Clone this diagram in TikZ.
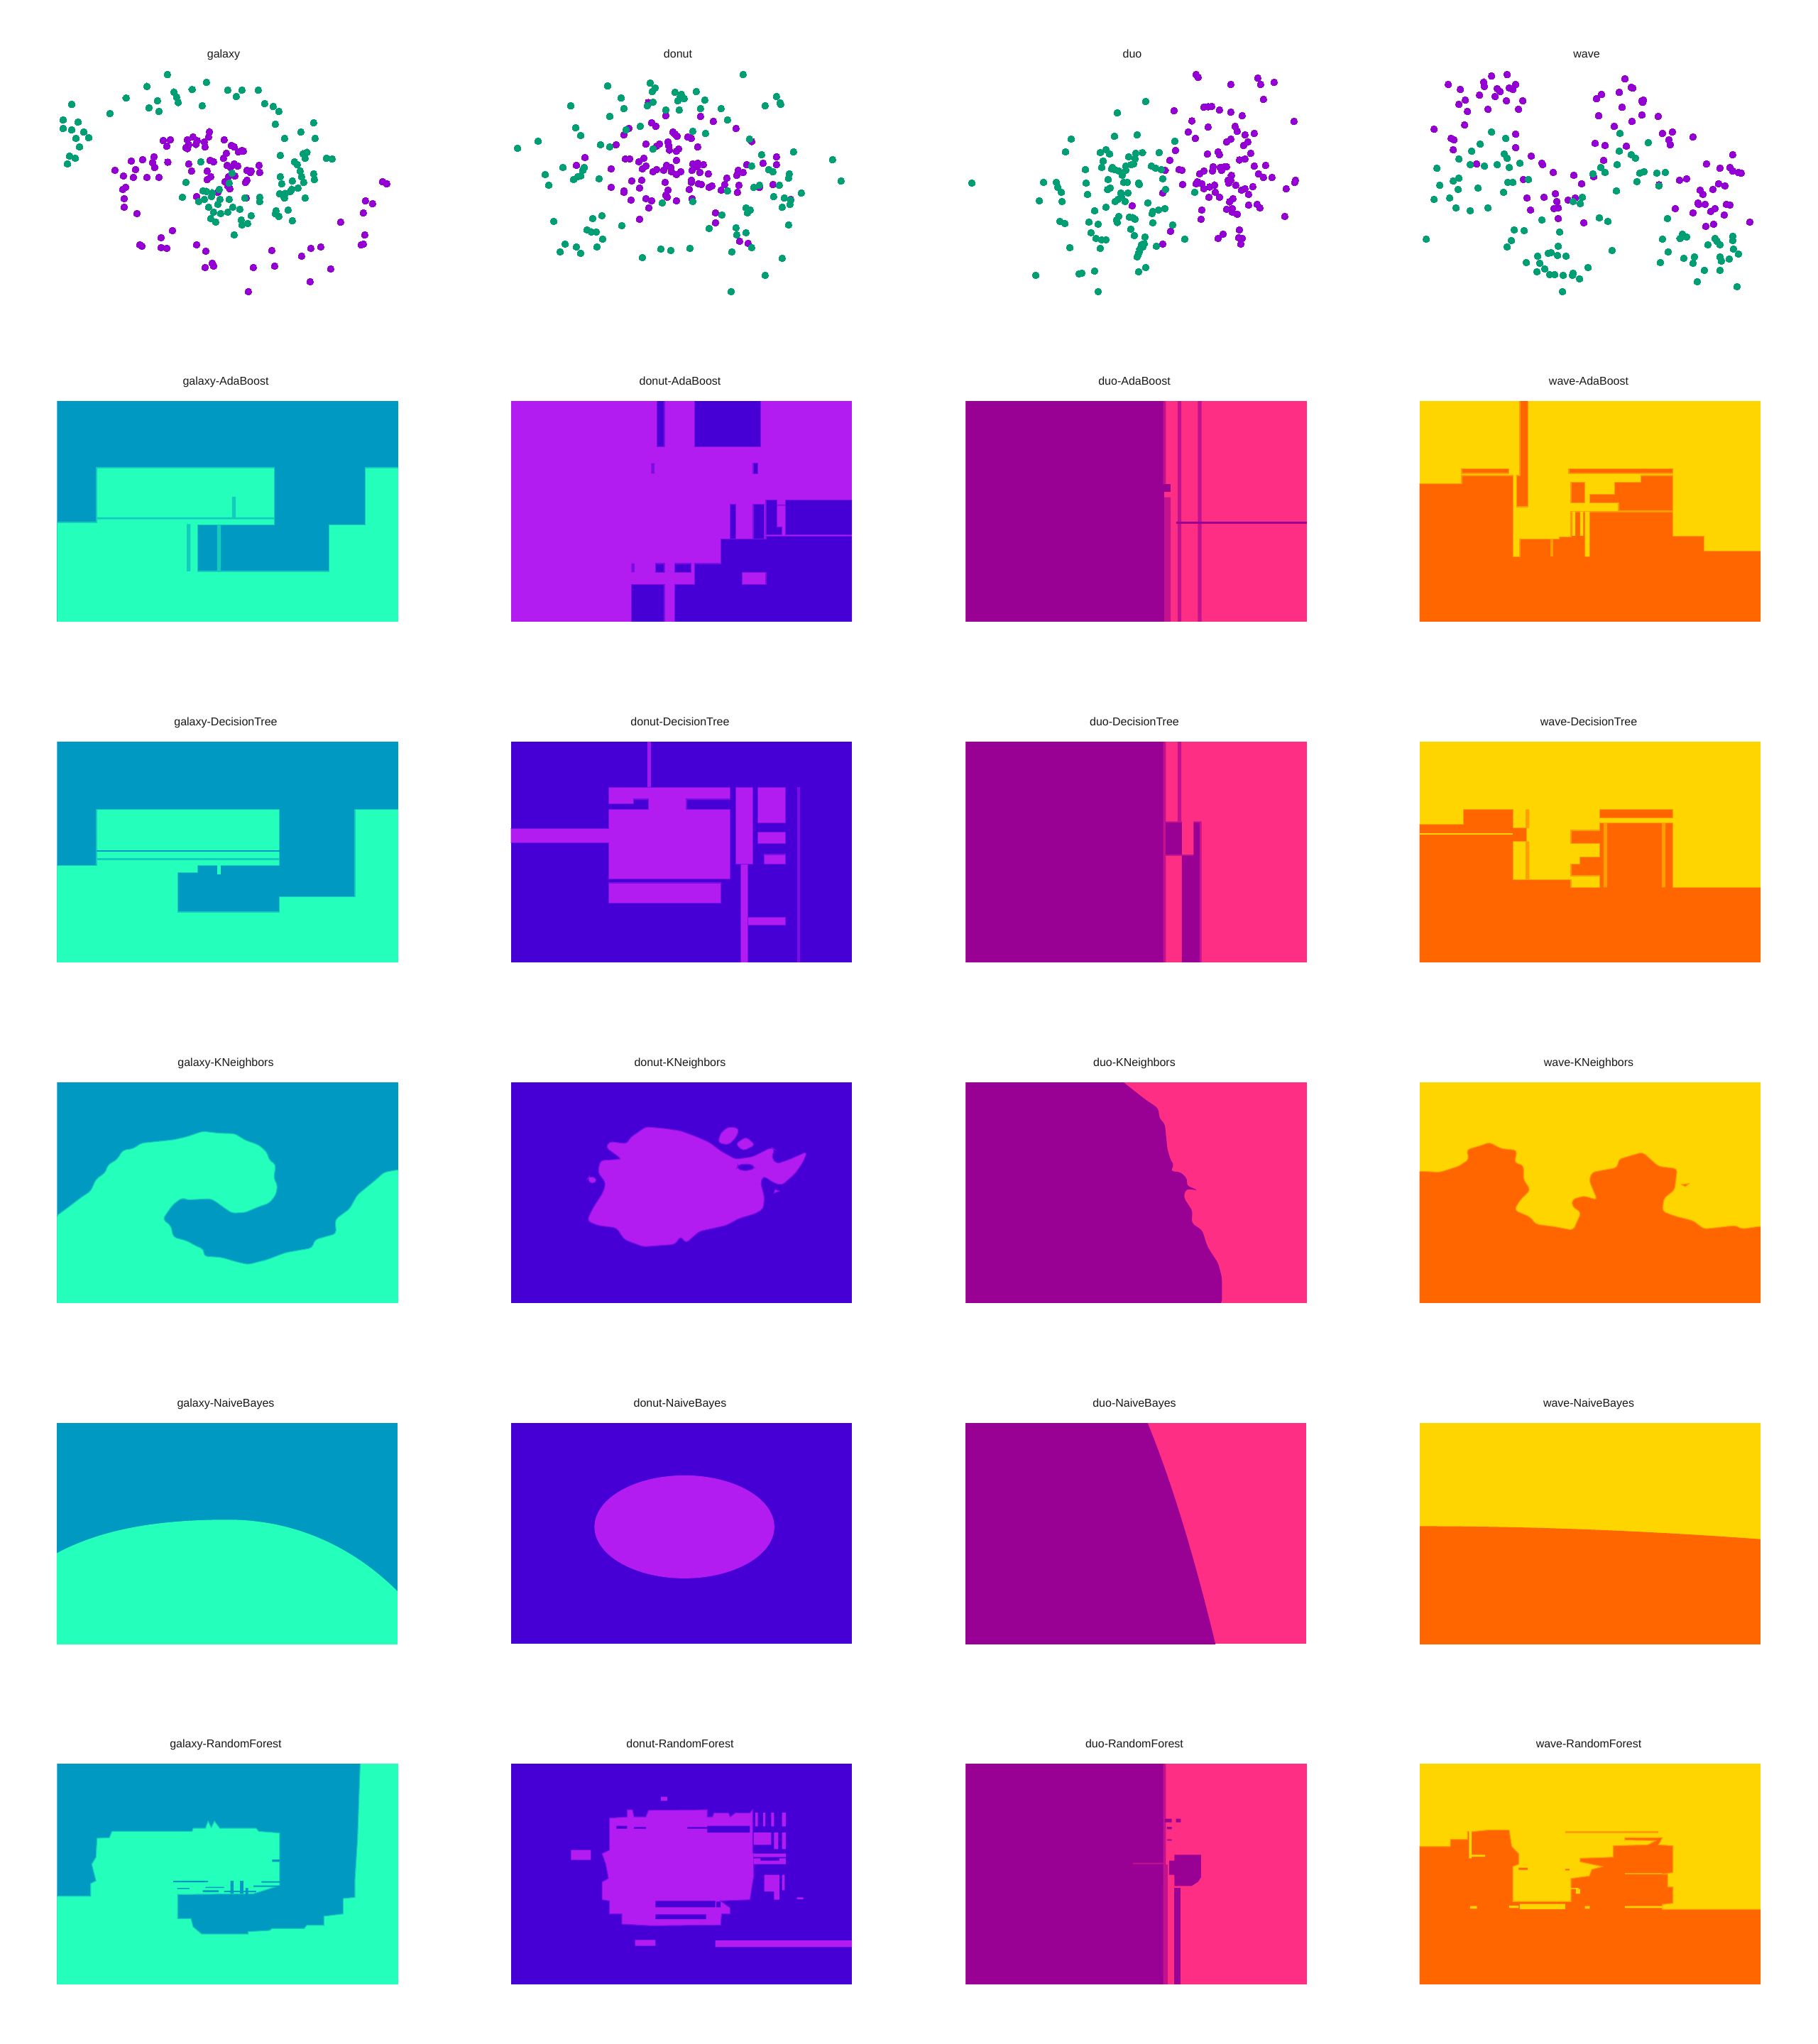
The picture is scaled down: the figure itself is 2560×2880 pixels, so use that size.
\documentclass[tikz,border=0pt]{standalone}
\usepackage{fontspec}
\setmainfont{Liberation Sans}
\definecolor{gaB}{HTML}{0099C2}
\definecolor{gaM}{HTML}{24FFBB}
\definecolor{doB}{HTML}{4600D6}
\definecolor{doM}{HTML}{B31CF0}
\definecolor{duD}{HTML}{990094}
\definecolor{duP}{HTML}{FF2E85}
\definecolor{waY}{HTML}{FFD500}
\definecolor{waO}{HTML}{FF6600}
\definecolor{ptg}{HTML}{009E73}
\definecolor{ptp}{HTML}{9400D3}
\colorlet{gaE}{gaB!50!gaM}
\colorlet{doE}{doB!50!doM}
\colorlet{duE}{duD!60!duP}
\colorlet{waE}{waY!50!waO}
\tikzset{
  ttl/.style={anchor=base,inner sep=0pt,font=\fontsize{4}{5}\selectfont,text=black!90},
  cropL/.style={shift={(60,#1)},xscale=0.752,yscale=0.3333},
  cropR/.style={shift={(1340,#1)},xscale=0.752,yscale=0.3333},
  cropT/.style={shift={(#1,50)},scale=0.3333},
  thumb/.style={scale=1.8364},
  gaf/.style={fill=gaM,draw=gaE,line width=.3pt},
  dof/.style={fill=doM,draw=doE,line width=.3pt},
  dob/.style={fill=doB,draw=doE,line width=.3pt},
  wao/.style={fill=waO,draw=waE,line width=.3pt},
  soft/.style={rounded corners=1.2pt},
  ptsg/.style={mark=*,mark size=3.63pt,only marks,mark options={fill=ptg,draw=ptg,line width=0pt}},
  ptsp/.style={mark=*,mark size=3.63pt,only marks,mark options={fill=ptp,draw=ptp,line width=0pt}},
}
\newcommand{\pl}{\clip (27,165) rectangle (666,1098);}
\newcommand{\pr}{\clip (877,165) rectangle (1516,1098);}
\begin{document}
\begin{tikzpicture}[x=0.25pt,y=-0.25pt]
\useasboundingbox (0,0) rectangle (2560,2880);
\fill[white] (0,0) rectangle (2560,2880);
% titles
\node[ttl] (t11) at (315,81) {galaxy};
\node[ttl] (t12) at (955,81) {donut};
\node[ttl] (t13) at (1595,81) {duo};
\node[ttl] (t14) at (2235,81) {wave};
\node[ttl] (t21) at (318,542) {galaxy-AdaBoost};
\node[ttl] (t22) at (958,542) {donut-AdaBoost};
\node[ttl] (t23) at (1598,542) {duo-AdaBoost};
\node[ttl] (t24) at (2238,542) {wave-AdaBoost};
\node[ttl] (t31) at (318,1022) {galaxy-DecisionTree};
\node[ttl] (t32) at (958,1022) {donut-DecisionTree};
\node[ttl] (t33) at (1598,1022) {duo-DecisionTree};
\node[ttl] (t34) at (2238,1022) {wave-DecisionTree};
\node[ttl] (t41) at (318,1502) {galaxy-KNeighbors};
\node[ttl] (t42) at (958,1502) {donut-KNeighbors};
\node[ttl] (t43) at (1598,1502) {duo-KNeighbors};
\node[ttl] (t44) at (2238,1502) {wave-KNeighbors};
\node[ttl] (t51) at (318,1982) {galaxy-NaiveBayes};
\node[ttl] (t52) at (958,1982) {donut-NaiveBayes};
\node[ttl] (t53) at (1598,1982) {duo-NaiveBayes};
\node[ttl] (t54) at (2238,1982) {wave-NaiveBayes};
\node[ttl] (t61) at (318,2462) {galaxy-RandomForest};
\node[ttl] (t62) at (958,2462) {donut-RandomForest};
\node[ttl] (t63) at (1598,2462) {duo-RandomForest};
\node[ttl] (t64) at (2238,2462) {wave-RandomForest};
% scatter: galaxy
\begin{scope}[cropT=60]
\path[ptsp] plot coordinates {(705,407)(702,429)(684,450)(687,471)(636,429)(654,445)(612,441)(648,460)(618,462)(606,474)(612,478)(510,444)(540,441)(525,468)(768,441)(798,465)(810,471)(843,486)(849,489)(828,492)(777,498)(765,519)(708,528)(723,534)(618,543)(630,573)(696,573)(471,513)(423,525)(375,531)(465,537)(474,558)(529,535)(393,567)(306,570)(342,594)(384,600)(441,600)(492,600)(351,642)(339,651)(345,690)(345,726)(399,753)(780,549)(810,543)(795,558)(825,552)(915,549)(864,570)(882,573)(878,579)(918,579)(711,597)(696,609)(786,597)(813,594)(771,618)(864,612)(858,621)(783,636)(792,648)(741,663)(651,681)(861,687)(549,825)(501,855)(411,885)(420,891)(501,897)(525,900)(651,885)(690,912)(717,963)(723,975)(687,981)(969,909)(891,981)(981,975)(870,1083)(1131,1041)(1218,987)(1095,933)(1134,900)(1176,894)(1347,885)(1356,882)(1362,843)(1260,789)(1356,750)(1365,699)(1395,711)(1437,618)(1455,627)};
\path[ptsg] plot coordinates {(528,165)(441,215)(693,198)(632,228)(555,239)(567,261)(573,283)(353,264)(486,276)(450,306)(492,321)(675,297)(285,330)(123,291)(87,357)(150,366)(87,393)(123,399)(174,408)(195,432)(141,435)(156,471)(114,510)(138,519)(105,543)(783,231)(843,231)(819,258)(912,231)(939,288)(975,300)(999,321)(984,375)(1146,369)(1092,408)(1152,435)(1023,435)(1005,507)(1117,494)(1101,500)(1110,519)(1200,519)(1224,522)(1065,534)(1077,546)(1089,573)(1146,585)(1095,597)(1149,609)(1104,621)(1005,597)(1056,615)(1011,627)(1080,645)(1053,650)(1047,660)(1002,669)(1025,668)(1022,687)(1110,687)(669,534)(606,621)(801,582)(789,624)(591,684)(678,657)(693,659)(717,665)(714,681)(747,651)(684,693)(660,702)(750,693)(741,714)(789,693)(855,687)(918,684)(918,702)(702,726)(723,747)(753,753)(783,747)(804,726)(834,735)(711,774)(732,789)(882,762)(840,780)(867,795)(843,801)(810,843)(987,741)(984,753)(999,765)(1038,738)(1056,783)};
\end{scope}
% scatter: donut
\begin{scope}[cropT=700]
\path[ptsp] plot coordinates {(640,283)(714,339)(861,342)(915,363)(654,369)(672,384)(558,393)(537,420)(1011,393)(744,408)(753,417)(762,426)(807,429)(822,435)(723,450)(726,465)(729,484)(630,459)(687,459)(675,468)(504,462)(849,471)(1077,448)(768,480)(759,489)(372,516)(336,549)(543,522)(561,522)(621,519)(600,534)(759,528)(630,552)(615,564)(483,564)(828,543)(849,540)(873,546)(846,555)(825,570)(858,579)(717,549)(735,558)(705,570)(738,576)(660,576)(675,567)(777,576)(759,588)(894,585)(1056,546)(1125,540)(1182,513)(1182,546)(1020,570)(1041,579)(1014,591)(972,603)(963,630)(948,654)(1023,633)(1017,663)(570,615)(612,612)(603,645)(711,621)(822,612)(822,621)(852,627)(864,630)(897,642)(909,636)(483,642)(537,657)(537,663)(813,651)(723,654)(714,675)(720,684)(630,690)(654,699)(567,696)(759,699)(825,690)(642,729)(1167,630)(1110,642)(1242,693)(924,750)(603,777)(924,792)(1026,870)(1062,879)};
\path[ptsg] plot coordinates {(1041,165)(468,213)(648,201)(669,222)(657,237)(753,240)(780,249)(774,261)(792,267)(765,276)(843,237)(879,273)(525,264)(660,282)(636,297)(312,297)(537,309)(714,315)(771,315)(861,309)(948,309)(477,342)(1182,258)(1197,285)(1200,291)(1134,297)(975,357)(606,384)(333,390)(546,399)(354,423)(828,405)(882,414)(174,447)(87,477)(438,462)(477,471)(660,480)(1068,438)(1119,504)(1254,492)(1419,525)(279,558)(369,558)(363,570)(204,588)(354,594)(342,597)(324,609)(432,606)(219,633)(1077,552)(1149,567)(1167,576)(1236,585)(1233,603)(1455,615)(1110,633)(1086,642)(1194,633)(975,657)(1287,666)(1170,681)(1215,687)(1239,714)(1206,726)(1241,696)(699,708)(828,702)(1053,729)(1071,738)(1065,738)(1059,750)(951,759)(444,762)(405,774)(240,786)(528,804)(1233,801)(897,816)(1011,813)(381,822)(399,830)(420,831)(1053,834)(1014,843)(447,861)(288,882)(336,894)(423,894)(267,915)(354,921)(693,903)(735,909)(816,900)(993,915)(1077,897)(615,939)(1206,942)(1134,1014)(990,1083)};
\end{scope}
% scatter: duo
\begin{scope}[cropT=1340]
\path[ptsp] plot coordinates {(1035,165)(1044,177)(1296,180)(1308,207)(1365,198)(1182,207)(1320,270)(1068,303)(1086,301)(1101,300)(1134,315)(1182,324)(1230,339)(942,318)(1017,361)(1449,363)(1086,387)(1200,384)(1209,405)(1002,408)(1242,420)(1281,414)(1032,435)(1182,438)(1164,450)(1254,450)(1236,465)(948,486)(1128,492)(1134,504)(1083,501)(1266,498)(1242,522)(1218,526)(924,528)(904,570)(963,567)(975,570)(1281,552)(1329,549)(1107,555)(1104,572)(1068,573)(1050,585)(1137,558)(1143,570)(1155,555)(1164,555)(1299,585)(1320,600)(1356,600)(1184,591)(1170,612)(1182,612)(1173,624)(1203,633)(1455,612)(1452,621)(978,630)(1040,618)(1035,627)(1059,627)(1068,648)(1092,640)(1113,632)(1275,639)(1227,654)(1242,648)(1416,648)(894,666)(1116,663)(1257,672)(1089,684)(1134,684)(1191,690)(1176,703)(765,720)(1257,717)(1293,714)(1305,729)(1059,738)(1164,735)(1188,732)(1188,747)(1209,756)(1410,765)(1056,777)(1218,822)(927,828)(1149,840)(1128,858)(1215,855)(1230,858)(1224,882)(894,882)};
\path[ptsg] plot coordinates {(822,279)(702,327)(507,438)(690,426)(786,420)(945,447)(483,492)(654,483)(630,495)(669,501)(750,513)(780,498)(808,495)(879,495)(777,521)(642,531)(636,558)(738,552)(771,543)(760,546)(846,552)(864,561)(888,567)(681,558)(678,564)(690,567)(708,573)(738,570)(723,591)(567,567)(663,609)(894,606)(390,621)(444,621)(570,624)(729,621)(744,621)(792,624)(795,630)(87,624)(450,642)(465,663)(672,645)(661,651)(906,651)(1029,663)(717,666)(747,666)(576,672)(720,684)(705,693)(693,702)(735,702)(372,699)(468,702)(831,708)(654,726)(606,741)(903,732)(876,738)(852,744)(849,753)(708,765)(699,780)(702,790)(753,768)(768,770)(777,777)(459,786)(480,795)(582,789)(621,798)(852,792)(936,801)(759,819)(591,834)(774,846)(612,858)(636,864)(654,864)(819,852)(987,861)(816,880)(804,885)(810,893)(867,891)(501,897)(630,900)(797,903)(795,915)(790,925)(786,936)(822,981)(792,999)(606,996)(552,1005)(540,1008)(357,1014)(621,1083)};
\end{scope}
% scatter: wave
\begin{scope}[cropT=1980]
\path[ptsp] plot coordinates {(429,165)(363,171)(180,207)(330,197)(333,215)(231,228)(465,207)(438,222)(453,228)(387,225)(399,237)(312,252)(378,258)(252,273)(426,276)(495,276)(225,291)(261,321)(348,312)(477,312)(249,378)(120,396)(465,417)(192,435)(204,441)(201,483)(465,474)(531,510)(576,540)(579,546)(300,543)(624,579)(711,591)(498,609)(744,627)(795,597)(927,183)(954,219)(960,222)(903,240)(828,249)(807,267)(999,276)(1005,273)(1002,282)(915,303)(816,339)(999,336)(1068,342)(957,363)(882,384)(1086,414)(1128,408)(1113,441)(1119,462)(1215,429)(801,456)(843,465)(933,468)(1383,504)(837,528)(1272,543)(1329,561)(1371,558)(1383,573)(1407,579)(1419,582)(1158,612)(1188,606)(1071,631)(1323,627)(1350,636)(1299,651)(1245,654)(1257,672)(633,669)(513,687)(585,684)(687,696)(717,687)(639,702)(1236,708)(1239,714)(1266,714)(1356,714)(1371,717)(1140,732)(1308,732)(1290,744)(1215,750)(1347,759)(627,732)(645,729)(528,738)(645,774)(753,792)(1455,789)(1302,798)(1269,807)};
\path[ptsg] plot coordinates {(363,408)(423,435)(906,414)(1026,453)(315,459)(279,489)(417,501)(429,519)(903,489)(954,504)(972,519)(225,522)(483,540)(273,546)(387,546)(333,552)(438,558)(132,561)(894,546)(825,558)(843,579)(792,585)(990,582)(1008,576)(1062,582)(1098,579)(225,603)(201,615)(432,621)(453,621)(519,609)(978,618)(1071,636)(144,633)(222,651)(306,645)(891,657)(414,663)(120,693)(186,687)(747,684)(708,702)(738,711)(213,729)(273,741)(348,729)(576,780)(819,771)(855,786)(1107,774)(459,822)(501,825)(651,831)(87,861)(447,867)(429,894)(645,891)(1170,840)(1160,858)(1188,852)(1086,861)(1308,858)(1316,870)(1329,885)(1383,849)(1383,867)(1278,885)(1386,903)(873,909)(1110,915)(1407,924)(603,921)(615,918)(642,930)(558,933)(678,933)(1221,936)(1176,942)(1329,936)(1335,954)(1368,945)(510,960)(567,963)(1215,963)(1077,960)(588,987)(771,981)(555,999)(1263,993)(1329,993)(609,1011)(630,1011)(666,1014)(705,1014)(708,1005)(735,1029)(1233,1041)(1401,1062)(663,1083)};
\end{scope}
% ===== row 2 AdaBoost =====
\begin{scope}[cropL=510]
\begin{scope}\pl
\fill[gaB] (27,165) rectangle (666,1098);
\path[gaf] (27,1100) -- (27,678) -- (101,678) -- (101,447) -- (434,447) -- (434,688) -- (291,688) -- (291,885) -- (537,885) -- (537,688) -- (604,688) -- (604,447) -- (668,447) -- (668,1100) -- cycle;
\fill[gaE] (101,657) rectangle (434,665) (355,570) rectangle (362,661) (270,685) rectangle (277,885) (327,688) rectangle (334,885);
\end{scope}
\begin{scope}\pr
\fill[doM] (877,165) rectangle (1516,1098);
\path[dob] (1151,160) rectangle (1165,358) (1221,160) rectangle (1345,358) (1392,583) rectangle (1520,730) (1331,428) rectangle (1340,472);
\path[dob] (1355,583) -- (1376,583) -- (1376,697) -- (1385,697) -- (1385,730) -- (1355,730) -- cycle;
\path[dob] (1288,601) rectangle (1298,748) (1331,601) rectangle (1352,748);
\path[dob] (1271,748) -- (1355,748) -- (1355,737) -- (1520,737) -- (1520,1102) -- (1184,1102) -- (1184,940) -- (1221,940) -- (1221,852) -- (1271,852) -- cycle;
\path[dof] (1310,889) rectangle (1355,940);
\path[dob] (1103,940) rectangle (1165,1102) (1148,852) rectangle (1165,889) (1184,852) rectangle (1215,889);
\fill[doE] (1140,428) rectangle (1146,472) (1103,852) rectangle (1109,889) (1376,603) rectangle (1392,608);
\end{scope}
\end{scope}
\begin{scope}[cropR=510]
\begin{scope}\pl
\fill[duP] (27,165) rectangle (666,1098);
\fill[duD] (27,165) rectangle (399,1098);
\fill[duE] (397,165) rectangle (402,517) (399,572) rectangle (411,1098) (424,165) rectangle (431,1098) (462,165) rectangle (469,1098);
\fill[duD] (399,517) rectangle (411,550);
\fill[duD] (421,674) rectangle (666,683);
\end{scope}
\begin{scope}\pr
\fill[waY] (877,165) rectangle (1516,1098);
\path[wao] (874,1102) -- (874,515) -- (956,515) -- (956,480) -- (1052,480) -- (1052,823) -- (1065,823) -- (1065,748) -- (1139,748) -- (1139,740) -- (1161,740) -- (1161,633) -- (1352,633) -- (1352,737) -- (1410,737) -- (1410,800) -- (1520,800) -- (1520,1102) -- cycle;
\fill[waE] (1122,748) rectangle (1127,823);
\fill[waY] (1163,633) rectangle (1169,735) (1178,633) rectangle (1184,735) (1187,633) rectangle (1196,823);
\path[wao] (1065,160) -- (1080,160) -- (1080,612) -- (1059,612) -- (1059,480) -- (1065,480) -- cycle;
\path[wao] (956,452) rectangle (1045,471) (1157,452) rectangle (1352,471);
\path[wao] (1292,480) -- (1352,480) -- (1352,628) -- (1250,628) -- (1250,596) -- (1196,596) -- (1196,560) -- (1243,560) -- (1243,508) -- (1292,508) -- cycle;
\path[wao] (1161,508) rectangle (1187,596);
\end{scope}
\end{scope}
% ===== row 3 DecisionTree =====
\begin{scope}[cropL=990]
\begin{scope}\pl
\fill[gaB] (27,165) rectangle (666,1098);
\path[gaf] (24,1102) -- (24,688) -- (101,688) -- (101,451) -- (444,451) -- (444,688) -- (291,688) -- (291,718) -- (253,718) -- (253,885) -- (444,885) -- (444,820) -- (585,820) -- (585,451) -- (670,451) -- (670,1102) -- cycle;
\fill[gaB] (101,623) rectangle (444,630);
\fill[gaE] (101,657) rectangle (444,666);
\fill[gaM] (327,688) rectangle (334,725);
\end{scope}
\begin{scope}\pr
\fill[doB] (877,165) rectangle (1516,1098);
\path[dof] (1061,358) -- (1288,358) -- (1288,408) -- (1206,408) -- (1206,451) -- (1288,451) -- (1288,745) -- (1061,745) -- (1061,592) -- (870,592) -- (870,532) -- (1061,532) -- (1061,451) -- (1135,451) -- (1135,408) -- (1107,408) -- (1107,428) -- (1061,428) -- cycle;
\path[dof] (1298,358) rectangle (1330,682) (1340,358) rectangle (1392,508) (1340,548) rectangle (1392,596) (1352,642) rectangle (1392,682) (1061,762) rectangle (1271,847) (1308,682) rectangle (1321,1102) (1321,908) rectangle (1392,940);
\fill[doM!85!doB] (1133,165) rectangle (1140,358);
\fill[doE] (1413,358) rectangle (1419,1098);
\end{scope}
\end{scope}
\begin{scope}[cropR=990]
\begin{scope}\pl
\fill[duP] (27,165) rectangle (666,1098);
\fill[duD] (27,165) rectangle (399,1098);
\fill[duE] (397,165) rectangle (402,1098) (424,165) rectangle (431,502) (402,502) rectangle (432,507);
\fill[duD] (402,507) rectangle (432,643);
\fill[duE] (402,643) rectangle (455,648);
\fill[duD] (454,505) rectangle (466,1098) (432,648) rectangle (466,1098);
\fill[duE] (454,502) rectangle (469,507) (466,502) rectangle (469,1098);
\end{scope}
\begin{scope}\pr
\fill[waY] (877,165) rectangle (1516,1098);
\path[wao] (874,1102) -- (874,515) -- (959,515) -- (959,451) -- (1052,451) -- (1052,530) -- (1078,530) -- (1078,587) -- (1052,587) -- (1052,748) -- (1161,748) -- (1161,781) -- (1215,781) -- (1215,732) -- (1161,732) -- (1161,682) -- (1178,682) -- (1178,652) -- (1215,652) -- (1215,596) -- (1161,596) -- (1161,540) -- (1215,540) -- (1215,508) -- (1352,508) -- (1352,781) -- (1520,781) -- (1520,1102) -- cycle;
\fill[waY] (877,551) rectangle (1052,558);
\fill[waE] (1076,451) rectangle (1083,530) (1076,587) rectangle (1083,748) (1222,508) rectangle (1229,781) (1331,508) rectangle (1338,781);
\path[wao] (1215,451) rectangle (1352,488);
\end{scope}
\end{scope}
% ===== row 4 KNeighbors =====
\begin{scope}[cropL=1470]
\begin{scope}\pl
\fill[gaB] (27,165) rectangle (666,1098);
\path[gaf,soft] (24,733) -- (50,690) -- (70,655) -- (90,625) -- (100,575) -- (118,545) -- (122,515) -- (140,490) -- (150,452) -- (170,445) -- (185,422) -- (215,415) -- (245,408) -- (270,395) -- (300,372) -- (330,380) -- (360,382) -- (380,410) -- (405,430) -- (420,460) -- (425,495) -- (437,512) -- (433,570) -- (440,600) -- (437,640) -- (425,675) -- (400,695) -- (380,715) -- (355,718) -- (340,695) -- (325,670) -- (315,657) -- (270,662) -- (262,652) -- (245,680) -- (235,710) -- (225,745) -- (240,770) -- (245,820) -- (270,835) -- (290,860) -- (302,870) -- (302,900) -- (335,905) -- (365,925) -- (385,935) -- (420,915) -- (455,885) -- (505,865) -- (510,830) -- (550,805) -- (548,745) -- (575,700) -- (590,640) -- (620,585) -- (640,545) -- (670,533) -- (670,1102) -- (24,1102) -- cycle;
\end{scope}
\begin{scope}\pr
\fill[doB] (877,165) rectangle (1516,1098);
\path[dof,soft] (1130,353) -- (1165,360) -- (1195,370) -- (1225,395) -- (1250,420) -- (1270,455) -- (1298,490) -- (1330,480) -- (1365,440) -- (1372,450) -- (1365,480) -- (1375,510) -- (1400,490) -- (1432,458) -- (1425,500) -- (1410,550) -- (1385,600) -- (1370,590) -- (1350,560) -- (1345,590) -- (1352,650) -- (1350,700) -- (1335,720) -- (1305,740) -- (1280,770) -- (1230,795) -- (1205,845) -- (1195,815) -- (1185,850) -- (1125,860) -- (1090,830) -- (1075,780) -- (1040,770) -- (1020,750) -- (1030,700) -- (1050,630) -- (1055,590) -- (1040,545) -- (1045,495) -- (1085,490) -- (1055,440) -- (1062,415) -- (1095,425) -- (1100,400) -- cycle;
\path[dob,soft] (1303,512) -- (1328,510) -- (1335,530) -- (1315,540) -- (1300,530) -- cycle;
\path[dof,soft] (1285,352) -- (1305,360) -- (1300,395) -- (1285,430) -- (1265,420) -- (1270,380) -- cycle;
\path[dof,soft] (1318,395) -- (1335,430) -- (1312,455) -- (1298,425) -- cycle;
\path[dof,soft] (1025,560) -- (1040,575) -- (1030,597) -- (1020,575) -- cycle;
\path[dof] (1372,618) -- (1380,625) -- (1370,633) -- cycle;
\end{scope}
\end{scope}
\begin{scope}[cropR=1470]
\begin{scope}\pl
\fill[duP] (27,165) rectangle (666,1098);
\fill[duD,soft] (24,160) -- (320,160) -- (345,205) -- (365,240) -- (388,275) -- (390,318) -- (400,340) -- (405,450) -- (412,500) -- (418,515) -- (410,540) -- (430,545) -- (443,575) -- (440,600) -- (463,622) -- (440,615) -- (435,650) -- (452,710) -- (450,760) -- (470,790) -- (480,860) -- (500,930) -- (507,990) -- (507,1102) -- (24,1102) -- cycle;
\end{scope}
\begin{scope}\pr
\fill[waY] (877,165) rectangle (1516,1098);
\path[wao,soft] (874,540) -- (915,545) -- (950,520) -- (970,490) -- (965,450) -- (995,430) -- (1008,418) -- (1030,445) -- (1060,452) -- (1055,505) -- (1072,515) -- (1072,575) -- (1085,620) -- (1065,665) -- (1055,705) -- (1085,735) -- (1095,765) -- (1130,775) -- (1165,790) -- (1180,715) -- (1163,690) -- (1163,660) -- (1185,645) -- (1210,662) -- (1195,580) -- (1200,545) -- (1248,525) -- (1250,490) -- (1295,460) -- (1325,520) -- (1360,530) -- (1355,620) -- (1335,655) -- (1332,710) -- (1355,730) -- (1390,750) -- (1410,785) -- (1470,770) -- (1480,785) -- (1520,772) -- (1520,1102) -- (874,1102) -- cycle;
\path[wao] (1368,597) -- (1382,593) -- (1375,606) -- cycle;
\end{scope}
\end{scope}
% ===== row 5 NaiveBayes =====
\begin{scope}[thumb]
\begin{scope}
\clip (43.56,1091.8) rectangle (304.9,1261.2);
\fill[gaB] (43.56,1091.8) rectangle (304.9,1261.2);
\fill[gaM] (43,1192) .. controls (80,1172) and (125,1166) .. (175,1166) .. controls (225,1166) and (270,1186) .. (305,1221) -- (305,1262) -- (43,1262) -- cycle;
\end{scope}
\begin{scope}
\clip (392.1,1091.8) rectangle (653.4,1261.2);
\fill[doB] (392.1,1091.8) rectangle (653.4,1261.2);
\fill[doM] (525,1171.5) ellipse [x radius=69,y radius=39.5];
\end{scope}
\begin{scope}
\clip (740.6,1091.8) rectangle (1002,1261.2);
\fill[duP] (740.6,1091.8) rectangle (1002,1261.2);
\fill[duD] (740,1091) -- (880,1091) .. controls (898,1135) and (915,1190) .. (932.5,1262) -- (740,1262) -- cycle;
\end{scope}
\begin{scope}
\clip (1089.1,1091.8) rectangle (1350.4,1261.2);
\fill[waY] (1089.1,1091.8) rectangle (1350.4,1261.2);
\fill[waO] (1089,1171) .. controls (1180,1171) and (1270,1175) .. (1351,1181) -- (1351,1262) -- (1089,1262) -- cycle;
\end{scope}
\end{scope}
% ===== row 6 RandomForest =====
\begin{scope}[cropL=2430]
\begin{scope}\pl
\fill[gaB] (27,165) rectangle (666,1098);
\path[gaf] (24,1102) -- (24,725) -- (90,725) -- (90,672) -- (100,660) -- (92,590) -- (100,560) -- (102,480) -- (125,478) -- (130,451) -- (280,451) -- (282,438) -- (305,438) -- (310,408) -- (316,435) -- (322,408) -- (332,438) -- (400,438) -- (405,451) -- (444,458) -- (444,680) -- (395,715) -- (253,718) -- (253,820) -- (278,820) -- (282,855) -- (298,885) -- (385,885) -- (385,875) -- (425,870) -- (430,862) -- (490,862) -- (495,848) -- (527,848) -- (527,810) -- (563,800) -- (563,735) -- (585,730) -- (585,660) -- (590,480) -- (595,160) -- (670,160) -- (670,1102) -- cycle;
\fill[gaB] (245,660) rectangle (310,666) (252,690) rectangle (275,695) (410,662) rectangle (444,668) (305,686) rectangle (340,690) (395,680) rectangle (444,686) (352,660) rectangle (358,714) (370,660) rectangle (376,714) (380,690) rectangle (385,725) (300,700) rectangle (330,708) (340,702) rectangle (400,708) (430,570) rectangle (444,580);
\end{scope}
\begin{scope}\pr
\fill[doB] (877,165) rectangle (1516,1098);
\path[dof] (1062,395) -- (1095,390) -- (1095,360) -- (1105,360) -- (1108,390) -- (1130,390) -- (1135,362) -- (1245,360) -- (1245,390) -- (1255,390) -- (1258,373) -- (1285,373) -- (1288,390) -- (1298,373) -- (1325,373) -- (1330,360) -- (1330,540) -- (1332,545) -- (1332,640) -- (1325,740) -- (1270,745) -- (1288,775) -- (1288,800) -- (1272,800) -- (1270,847) -- (1140,850) -- (1085,843) -- (1085,800) -- (1062,800) -- (1062,745) -- (1048,740) -- (1048,665) -- (1060,650) -- (1055,590) -- (1048,545) -- (1062,530) -- cycle;
\fill[doB] (1148,745) rectangle (1260,772) (1148,802) rectangle (1243,822) (1262,748) rectangle (1270,772) (1075,428) rectangle (1095,440) (1108,433) rectangle (1130,440) (1208,433) rectangle (1325,440) (1245,428) rectangle (1325,456);
\fill[doM] (990,530) rectangle (1027,572) (1158,305) rectangle (1170,322) (1335,372) rectangle (1340,430) (1350,372) rectangle (1354,430) (1365,372) rectangle (1370,430) (1385,372) rectangle (1392,430) (1332,456) rectangle (1365,508) (1370,456) rectangle (1378,526) (1385,456) rectangle (1392,526) (1332,545) rectangle (1392,590) (1352,635) rectangle (1380,705) (1370,705) rectangle (1380,740) (1385,635) rectangle (1390,700) (1413,730) rectangle (1425,738) (1110,910) rectangle (1148,935) (1260,912) rectangle (1516,940);
\fill[doB] (1332,560) rectangle (1392,565) (1345,566) rectangle (1380,575);
\end{scope}
\end{scope}
\begin{scope}[cropR=2430]
\begin{scope}\pl
\fill[duP] (27,165) rectangle (666,1098);
\fill[duD] (27,165) rectangle (399,1098);
\fill[duE] (397,165) rectangle (402,1098) (340,584) rectangle (402,590);
\fill[duE] (402,590) rectangle (406,1098);
\fill[duD] (418,550) -- (468,550) -- (468,645) -- (462,665) -- (450,682) -- (418,682) -- (418,635) -- (408,635) -- (408,575) -- (418,575) -- cycle;
\fill[duD] (418,690) rectangle (430,1098);
\fill[duD] (400,398) rectangle (413,413) (421,398) rectangle (430,413) (404,432) rectangle (413,442) (404,485) rectangle (413,490);
\end{scope}
\begin{scope}\pr
\fill[waY] (877,165) rectangle (1516,1098);
\path[wao] (874,1102) -- (874,515) -- (935,515) -- (935,485) -- (967,485) -- (967,452) -- (978,452) -- (1007,445) -- (1045,445) -- (1050,515) -- (1063,545) -- (1063,590) -- (1052,600) -- (1052,748) -- (1161,748) -- (1161,650) -- (1195,640) -- (1200,612) -- (1220,600) -- (1178,580) -- (1178,565) -- (1240,560) -- (1240,512) -- (1305,508) -- (1320,490) -- (1262,488) -- (1262,478) -- (1332,478) -- (1325,508) -- (1352,512) -- (1352,625) -- (1332,632) -- (1342,632) -- (1342,686) -- (1352,686) -- (1352,755) -- (1332,760) -- (1332,781) -- (1520,781) -- (1520,1102) -- cycle;
\fill[waY] (1065,758) rectangle (1150,780) (970,450) rectangle (975,565) (975,550) rectangle (1000,558) (972,767) rectangle (985,778) (1045,765) rectangle (1063,775) (1262,628) rectangle (1332,632) (1160,690) rectangle (1175,695) (1170,695) rectangle (1178,715) (1187,767) rectangle (1196,778) (1262,767) rectangle (1332,775);
\fill[waE] (1150,451) rectangle (1325,458);
\fill[waO] (1063,605) rectangle (1080,614) (1150,610) rectangle (1158,616);
\end{scope}
\end{scope}
\end{tikzpicture}
\end{document}
